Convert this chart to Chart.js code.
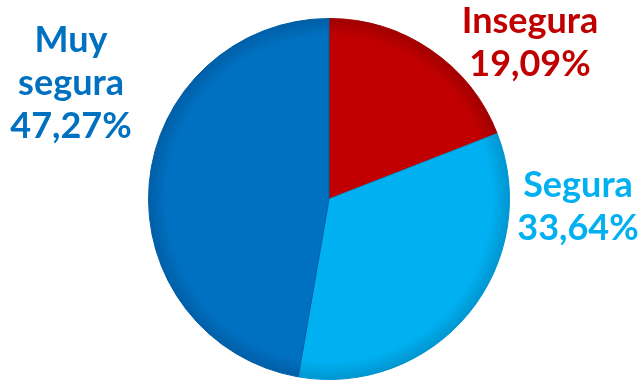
<!DOCTYPE html>
<html>
<head>
<meta charset="utf-8">
<script src="https://cdn.jsdelivr.net/npm/chart.js@4.4.1/dist/chart.umd.min.js"></script>
<style>
  html, body { margin: 0; padding: 0; background: #fff; }
  #wrap { width: 644px; height: 381px; position: relative; }
</style>
</head>
<body>
<div id="wrap"><canvas id="pie"></canvas></div>
<script>
const categories = [["Insegura"], ["Segura"], ["Muy", "segura"]];
const shares = [19.09, 33.64, 47.27];
const sliceColors = ["#C00000", "#00B0F0", "#0070C0"];
const rimColors = ["#A00000", "#0095D0", "#005EA6"];
const textColors = ["#C00000", "#00B0F0", "#0070C0"];

// where each label block sits (centre x, first baseline y)
const labelSpots = [[530, 33], [578, 197], [71, 52]];
const lineGap = 43;

const fmt = v => v.toFixed(2).replace(".", ",") + "%";

const shade = (ctx, i) => {
  const area = ctx.chart.chartArea;
  if (!area) return sliceColors[i];
  const cx = (area.left + area.right) / 2;
  const cy = (area.top + area.bottom) / 2;
  const r = Math.min(area.right - area.left, area.bottom - area.top) / 2;
  const g = ctx.chart.ctx.createRadialGradient(cx, cy, 0, cx, cy, r);
  g.addColorStop(0, sliceColors[i]);
  g.addColorStop(0.9, sliceColors[i]);
  g.addColorStop(1, rimColors[i]);
  return g;
};

const labelPlugin = {
  id: "labels",
  afterDraw(chart) {
    const c = chart.ctx;
    c.save();
    c.font = "bold 36px Lato";
    c.textAlign = "center";
    c.textBaseline = "alphabetic";
    categories.forEach((lines, i) => {
      const [x, y] = labelSpots[i];
      c.fillStyle = textColors[i];
      const all = lines.concat([fmt(shares[i])]);
      all.forEach((t, k) => c.fillText(t, x, y + k * lineGap));
    });
    c.restore();
  }
};

new Chart(document.getElementById("pie"), {
  type: "pie",
  data: {
    labels: categories.map(l => l.join(" ")),
    datasets: [{
      data: shares,
      backgroundColor: ctx => shade(ctx, ctx.dataIndex),
      borderColor: rimColors,
      borderWidth: 1
    }]
  },
  options: {
    responsive: true,
    maintainAspectRatio: false,
    animation: false,
    layout: { padding: { left: 148, right: 134, top: 18, bottom: 1 } },
    plugins: { legend: { display: false }, tooltip: { enabled: false } }
  },
  plugins: [labelPlugin]
});
</script>
</body>
</html>
